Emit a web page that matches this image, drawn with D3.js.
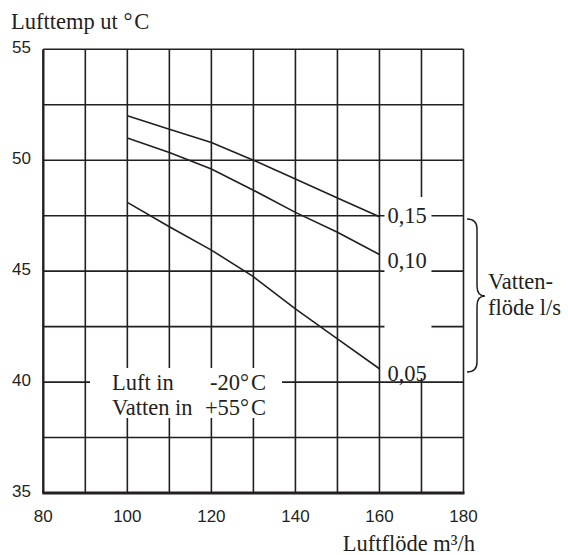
<!DOCTYPE html>
<html>
<head>
<meta charset="utf-8">
<script src="https://cdn.jsdelivr.net/npm/d3@7"></script>
<style>
  html, body { margin: 0; padding: 0; background: #fff; }
  svg { display: block; }
  .serif { font-family: "Liberation Serif", "Times New Roman", serif; font-size: 22.5px; fill: #231f20; }
  .tick-label { font-family: "Liberation Sans", Arial, sans-serif; font-size: 17px; fill: #231f20; }
</style>
</head>
<body>
<div id="chart"></div>
<script>
/* ═══ Lufttemp ut vs Luftflöde — grid chart ═══ */

// ── Data ──
const airflow   = [100, 110, 120, 130, 140, 150, 160];       // m³/h
const temp015   = [52.0, 51.4, 50.8, 50.0, 49.15, 48.3, 47.45];
const temp010   = [51.0, 50.35, 49.6, 48.65, 47.65, 46.75, 45.75];
const temp005   = [48.1, 47.0, 45.95, 44.75, 43.3, 41.95, 40.6];
const flowLabels = ['0,15', '0,10', '0,05'];
const xTicks = [80, 100, 120, 140, 160, 180];
const yTicks = [35, 40, 45, 50, 55];

const W = 568, H = 555;
const M = { top: 49.3, right: 104.5, bottom: 62, left: 43.3 };

const svg = d3.select('#chart').append('svg')
  .attr('width', W).attr('height', H);

const x = d3.scaleLinear().domain([80, 180]).range([M.left, W - M.right]);
const y = d3.scaleLinear().domain([35, 55]).range([H - M.bottom, M.top]);

const INK = '#231f20';
const GAP = '\u200A'; // hair space between ° and C

// ── Grid ──
const grid = svg.append('g');
grid.selectAll('line.v').data(d3.range(90, 181, 10)).join('line')
  .attr('x1', d => x(d)).attr('x2', d => x(d))
  .attr('y1', y(55)).attr('y2', y(35))
  .attr('stroke', INK).attr('stroke-width', 1.6);
grid.selectAll('line.h').data(d3.range(37.5, 55.1, 2.5)).join('line')
  .attr('x1', x(80)).attr('x2', x(180))
  .attr('y1', d => y(d)).attr('y2', d => y(d))
  .attr('stroke', INK).attr('stroke-width', 1.6);

// White gaps in the grid (label areas)
svg.append('rect')
  .attr('x', x(160) + 5).attr('y', 197)
  .attr('width', 47).attr('height', 181)
  .attr('fill', '#fff');
svg.append('rect')
  .attr('x', 90).attr('y', 368)
  .attr('width', 192).attr('height', 50)
  .attr('fill', '#fff');

// Axes lines (left + bottom, heavier)
svg.append('line')
  .attr('x1', x(80)).attr('x2', x(80))
  .attr('y1', y(55)).attr('y2', y(35))
  .attr('stroke', INK).attr('stroke-width', 2.4);
svg.append('line')
  .attr('x1', x(80) - 1).attr('x2', x(180) + 1)
  .attr('y1', y(35)).attr('y2', y(35))
  .attr('stroke', INK).attr('stroke-width', 3);

// ── Tick labels ──
svg.append('g').selectAll('text').data(yTicks).join('text')
  .attr('class', 'tick-label')
  .attr('x', 31).attr('y', d => y(d) + 4)
  .attr('text-anchor', 'end')
  .text(d => d);

svg.append('g').selectAll('text').data(xTicks).join('text')
  .attr('class', 'tick-label')
  .attr('x', d => x(d)).attr('y', y(35) + 29)
  .attr('text-anchor', 'middle')
  .text(d => d);

// ── Curves ──
const line = d3.line().x((d, i) => x(airflow[i])).y(d => y(d));
svg.append('g').selectAll('path').data([temp015, temp010, temp005]).join('path')
  .attr('d', line)
  .attr('fill', 'none').attr('stroke', INK).attr('stroke-width', 1.6);

// Curve labels at the right end
const labelY = [y(47.5) + 7, y(45) - 3, y(40) - 1];
svg.append('g').selectAll('text').data(flowLabels).join('text')
  .attr('class', 'serif')
  .attr('x', x(160) + 8).attr('y', (d, i) => labelY[i])
  .text(d => d);

// ── Brace + "Vattenflöde l/s" ──
svg.append('path')
  .attr('d', 'M467,219 Q477,219 477,229 L477,286 Q477,296 485,296 Q477,296 477,306 L477,362 Q477,372 467,372')
  .attr('fill', 'none').attr('stroke', INK).attr('stroke-width', 1.5);

svg.append('text').attr('class', 'serif')
  .attr('x', 488).attr('y', 289).text('Vatten-');
svg.append('text').attr('class', 'serif')
  .attr('x', 488).attr('y', 315).text('flöde l/s');

// ── Conditions note ──
const note = svg.append('g').attr('class', 'serif');
note.append('text').attr('x', 112).attr('y', 390).text('Luft in');
note.append('text').attr('x', 112).attr('y', 415).text('Vatten in');
note.append('text').attr('x', 266).attr('y', 390).attr('text-anchor', 'end').text('-20°' + GAP + 'C');
note.append('text').attr('x', 266).attr('y', 415).attr('text-anchor', 'end').text('+55°' + GAP + 'C');

// ── Axis titles ──
svg.append('text').attr('class', 'serif')
  .attr('x', 11).attr('y', 29).text('Lufttemp ut °' + GAP + 'C');
svg.append('text').attr('class', 'serif')
  .attr('x', 475).attr('y', 551).attr('text-anchor', 'end').text('Luftflöde m³/h');
</script>
</body>
</html>
